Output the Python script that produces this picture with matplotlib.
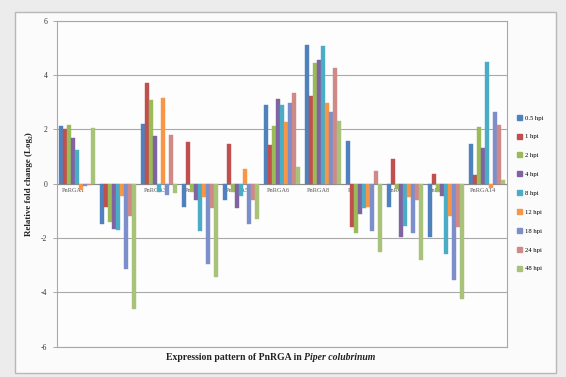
import matplotlib
matplotlib.use("Agg")
import matplotlib.pyplot as plt
from matplotlib.patches import Rectangle, Patch
from matplotlib.transforms import IdentityTransform
import numpy as np

plt.rcParams['font.family'] = ['Liberation Serif', 'DejaVu Serif']

genes = ["PnRGA1", "PnRGA2", "PnRGA3", "PnRGA4", "PnRGA5", "PnRGA6",
         "PnRGA8", "PnRGA9", "PnRGA10", "PnRGA11", "PnRGA14"]
series_names = ["0.5 hpi", "1 hpi", "2 hpi", "4 hpi", "8 hpi",
                "12 hpi", "18 hpi", "24 hpi", "48 hpi"]

hpi_0_5 = [2.12, -1.50, 2.20, -0.85, -0.60, 2.88, 5.12, 1.57, -0.85, -1.95, 1.45]
hpi_1 = [2.00, -0.85, 3.72, 1.55, 1.45, 1.42, 3.23, -1.60, 0.90, 0.37, 0.33]
hpi_2 = [2.15, -1.40, 3.07, -0.30, -0.30, 2.13, 4.46, -1.80, -0.20, -0.30, 2.07]
hpi_4 = [1.70, -1.65, 1.76, -0.60, -0.88, 3.12, 4.55, -1.10, -1.95, -0.45, 1.30]
hpi_8 = [1.25, -1.70, -0.30, -1.75, -0.45, 2.89, 5.07, -0.90, -1.55, -2.57, 4.49]
hpi_12 = [-0.25, -0.45, 3.14, -0.50, 0.53, 2.26, 2.97, -0.85, -0.50, -1.20, -0.15]
hpi_18 = [-0.10, -3.15, -0.40, -2.95, -1.50, 2.98, 2.63, -1.75, -1.80, -3.55, 2.65]
hpi_24 = [-0.05, -1.20, 1.80, -0.90, -0.60, 3.35, 4.27, 0.47, -0.60, -1.60, 2.17]
hpi_48 = [2.05, -4.60, -0.35, -3.45, -1.30, 0.60, 2.31, -2.53, -2.82, -4.25, 0.15]

series_values = [hpi_0_5, hpi_1, hpi_2, hpi_4, hpi_8, hpi_12, hpi_18, hpi_24, hpi_48]
colors = ["#4F81BD", "#C0504D", "#9BBB59", "#8064A2", "#4BACC6",
          "#F79646", "#7D8FCB", "#CF8A88", "#A9C27A"]

y_ticks = [6, 4, 2, 0, -2, -4, -6]

W, H = 566, 377
fig = plt.figure(figsize=(W / 100, H / 100), dpi=100)
fig.patch.set_facecolor("#ececec")

# chart area frame, kept behind the axes
fig.patches.append(Rectangle((15 / W, 1 - 373 / H), 541 / W, 361 / H,
                             transform=fig.transFigure, facecolor="#fbfbfb",
                             edgecolor="#b8b8b8", linewidth=1.0, zorder=-5))

ax = fig.add_axes([57 / W, 1 - 346.7 / H, 450 / W, 326 / H])
ax.set_zorder(1)
ax.set_facecolor("#fdfdfd")

n_series = len(series_values)
group_w = 0.88
bar_w = group_w / n_series
x = np.arange(len(genes))
for i, (vals, col) in enumerate(zip(series_values, colors)):
    offs = -group_w / 2 + bar_w * (i + 0.5)
    ax.bar(x + offs, vals, width=bar_w, color=col, edgecolor=col,
           linewidth=0.3, zorder=3, label=series_names[i])

ax.set_xlim(-0.5, len(genes) - 0.5)
ax.set_ylim(-6, 6)
ax.set_yticks(y_ticks)
ax.set_yticklabels([str(t) for t in y_ticks], fontsize=5.5, color="#333333")
ax.tick_params(axis="y", length=3, width=0.6, color="#999999", pad=4)
ax.set_xticks([])
ax.grid(axis="y", color="#a8a8a8", linewidth=0.8, zorder=0)
ax.set_axisbelow(True)
for s in ax.spines.values():
    s.set_color("#a8a8a8")
    s.set_linewidth(0.8)
ax.axhline(0, color="#8a8a8a", linewidth=0.8, zorder=1)

# gene names sit on the zero line, beneath the bars
for xi, g in zip(x, genes):
    ax.text(xi - 0.1, -0.17, g, ha="center", va="top", fontsize=4.5,
            color="#555555", zorder=0.5)

ax.set_ylabel("Relative fold change (Log\u2082)", fontsize=6.5,
              fontweight="bold", color="#222222")
ax.yaxis.set_label_coords(-0.053, 0.5)

handles = [Patch(facecolor=c, edgecolor=c) for c in colors]
fig.legend(handles, series_names, loc="upper left",
           bbox_to_anchor=(514 / W, 1 - 112 / H), frameon=False,
           fontsize=4.8, handlelength=0.8, handleheight=0.8,
           handletextpad=0.5, labelspacing=1.95, borderaxespad=0)

t1 = fig.text(166 / W, 1 - 357 / H, "Expression pattern of PnRGA in ",
              fontsize=7, fontweight="bold", va="center", ha="left",
              color="#222222")
t2 = fig.text(0, 0, "Piper colubrinum", fontsize=7, fontweight="bold",
              fontstyle="italic", va="center", ha="left", color="#222222")
fig.canvas.draw()
bb = t1.get_window_extent()
t2.set_transform(IdentityTransform())
t2.set_position((bb.x1, (bb.y0 + bb.y1) / 2))

fig.savefig("out.png", dpi=100, facecolor=fig.get_facecolor())
